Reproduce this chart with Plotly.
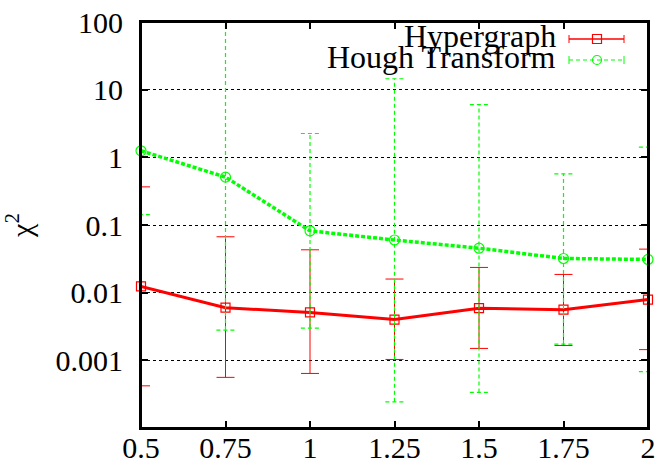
import plotly.graph_objects as go

# ---- data ----
x_vals = [0.5, 0.75, 1.0, 1.25, 1.5, 1.75, 2.0]
x_tick_labels = ["0.5", "0.75", "1", "1.25", "1.5", "1.75", "2"]

hyper_y = [0.0124, 0.0060, 0.0051, 0.0040, 0.0059, 0.0056, 0.0079]
hyper_hi = [0.366, 0.067, 0.043, 0.0159, 0.0236, 0.0186, 0.044]
hyper_lo = [0.00042, 0.00056, 0.00064, 0.00103, 0.0015, 0.00166, 0.00144]

hough_y = [1.25, 0.51, 0.082, 0.060, 0.0454, 0.032, 0.031]
hough_hi = [300.0, 300.0, 2.25, 14.5, 6.0, 0.57, 1.42]
hough_lo = [0.142, 0.0028, 0.0030, 0.000244, 0.000335, 0.00174, 0.00068]

y_tick_vals = [0.001, 0.01, 0.1, 1, 10, 100]
y_tick_labels = ["0.001", "0.01", "0.1", "1", "10", "100"]

series_names = ["Hypergraph", "Hough Transform"]

RED = "#ff0000"
GREEN = "#00ff00"
FONT = "Liberation Serif"
CAP = 0.027  # half cap width in x units

W, H = 663, 469

fig = go.Figure()

# Hypergraph: error bars (solid) + line
fig.add_trace(go.Scatter(
    x=x_vals, y=hyper_y, mode="lines+markers",
    line=dict(color=RED, width=3),
    marker=dict(symbol="square-open", size=9, color=RED, line=dict(width=1.2, color=RED)),
    error_y=dict(type="data", symmetric=False,
                 array=[h - v for h, v in zip(hyper_hi, hyper_y)],
                 arrayminus=[v - l for l, v in zip(hyper_lo, hyper_y)],
                 color=RED, thickness=1, width=9),
    showlegend=False, cliponaxis=False,
))

# Hough: dashed error bars built from data
ex, ey = [], []
for xv, lo, hi in zip(x_vals, hough_lo, hough_hi):
    ex += [xv, xv, None]
    ey += [lo, hi, None]
    ex += [xv - CAP, xv + CAP, None]
    ey += [lo, lo, None]
    ex += [xv - CAP, xv + CAP, None]
    ey += [hi, hi, None]
fig.add_trace(go.Scatter(
    x=ex, y=ey, mode="lines",
    line=dict(color=GREEN, width=1.2, dash="4px,3px"),
    showlegend=False, hoverinfo="skip", cliponaxis=False,
))
fig.add_trace(go.Scatter(
    x=x_vals, y=hough_y, mode="lines+markers",
    line=dict(color=GREEN, width=3.5, dash="4px,2px"),
    marker=dict(symbol="circle-open", size=10, color=GREEN, line=dict(width=1.2, color=GREEN)),
    showlegend=False, cliponaxis=False,
))

# ---- custom gnuplot-style legend (pixel positions) ----
L, R, T, B = 141, 648, 22, 428
def px(xp):
    return (xp - L) / (R - L)
def py(yp):
    return (B - yp) / (B - T)

legend_rows = [
    (series_names[0], RED, "solid", "square", 36, 39),
    (series_names[1], GREEN, "dash", "circle", 57, 60),
]
annotations = []
shapes = [dict(type="rect", xref="paper", yref="paper", x0=0, x1=1, y0=0, y1=1,
               line=dict(color="black", width=2), layer="above")]
for name, col, dash, sym, ty, ly in legend_rows:
    annotations.append(dict(
        text=name, x=px(558), y=py(ty), xref="paper", yref="paper",
        xanchor="right", yanchor="middle", showarrow=False,
        font=dict(family=FONT, size=32, color="black"),
    ))
    shapes.append(dict(type="line", xref="paper", yref="paper",
                       x0=px(569), x1=px(624), y0=py(ly), y1=py(ly),
                       line=dict(color=col, width=1.5 if dash == "solid" else 1.2,
                                 dash="solid" if dash == "solid" else "4px,3px")))
    for xe in (569, 624):
        shapes.append(dict(type="line", xref="paper", yref="paper",
                           xsizemode="pixel", ysizemode="pixel",
                           xanchor=px(xe), yanchor=py(ly),
                           x0=0, x1=0, y0=-4, y1=4,
                           line=dict(color=col, width=1)))
    shapes.append(dict(type="rect" if sym == "square" else "circle",
                       xref="paper", yref="paper",
                       xsizemode="pixel", ysizemode="pixel",
                       xanchor=px(597), yanchor=py(ly),
                       x0=-4.5, x1=4.5, y0=-4.5, y1=4.5,
                       line=dict(color=col, width=1.2)))

fig.update_layout(
    width=W, height=H,
    margin=dict(l=L, r=W - R, t=T, b=H - B),
    paper_bgcolor="white", plot_bgcolor="white",
    font=dict(family=FONT, size=30, color="black"),
    annotations=annotations, shapes=shapes,
    showlegend=False,
)
fig.update_xaxes(
    range=[0.5, 2.0], tickvals=x_vals, ticktext=x_tick_labels,
    ticks="inside", ticklen=7, tickwidth=1.5, tickcolor="black",
    showline=True, linewidth=2, linecolor="black", mirror="allticks",
    showgrid=False, zeroline=False, automargin=False,
    ticklabelstandoff=-8, ticklabeloverflow="allow",
    tickfont=dict(family=FONT, size=30),
)
fig.update_yaxes(
    type="log", range=[-4, 2], tickvals=y_tick_vals, ticktext=y_tick_labels,
    ticks="inside", ticklen=7, tickwidth=1.5, tickcolor="black",
    showline=True, linewidth=2, linecolor="black", mirror="allticks",
    showgrid=True, gridcolor="black", gridwidth=1, griddash="dot",
    zeroline=False, ticklabelstandoff=10, automargin=False,
    ticklabeloverflow="allow",
    tickfont=dict(family=FONT, size=30),
    title=dict(text="χ<sup>2</sup>", font=dict(family=FONT, size=30), standoff=18),
)

# remove the default page margin so the figure fills the window exactly
fig.write_html("out.html", config={"displayModeBar": False},
               post_script="document.body.style.margin='0px';document.body.style.overflow='hidden';")
